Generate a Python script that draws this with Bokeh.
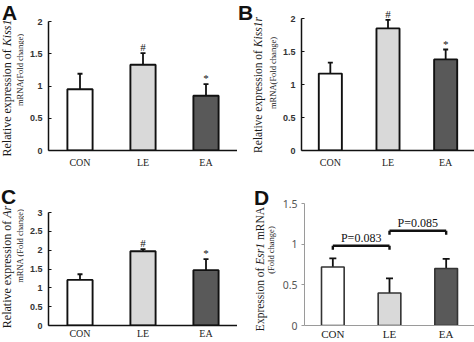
from bokeh.plotting import figure
from bokeh.models import (FactorRange, Range1d, FixedTicker, Whisker, TeeHead, Div,
                          LabelSet, ColumnDataSource, CustomJSTickFormatter)
from bokeh.layouts import row, column
from bokeh.embed import file_html
from bokeh.resources import INLINE

# ---------------- data ----------------
groups = ["CON", "LE", "EA"]

a_mean = [0.95, 1.33, 0.85]
a_err = [0.24, 0.18, 0.18]
a_sig = ["", "#", "*"]

b_mean = [1.165, 1.85, 1.38]
b_err = [0.165, 0.13, 0.15]
b_sig = ["", "#", "*"]

c_mean = [1.21, 1.97, 1.47]
c_err = [0.15, 0.06, 0.29]
c_sig = ["", "#", "*"]

d_mean = [0.72, 0.40, 0.70]
d_err = [0.105, 0.18, 0.12]
d_sig = ["", "", ""]

d_pairs = [("CON", "LE"), ("LE", "EA")]
d_pvals = ["P=0.083", "P=0.085"]
d_bracket_y = [0.98, 1.165]

fills = ["#ffffff", "#d9d9d9", "#595959"]

SERIF = "Liberation Serif"
SANS = "Liberation Sans"
H = 171


def panel(width, mean, err, sig, ymax, step, left, top, bottom, tick_top, style):
    # y range extends so that the top tick sits at pixel row `tick_top`
    ytop = ymax * (H - top - bottom) / (H - bottom - tick_top)
    p = figure(width=width, height=H,
               x_range=FactorRange(*groups, range_padding=0),
               y_range=Range1d(0, ytop),
               output_backend="svg", toolbar_location=None,
               min_border_left=left, min_border_right=0,
               min_border_top=top, min_border_bottom=bottom)
    p.outline_line_color = None
    p.xgrid.grid_line_color = None
    p.ygrid.grid_line_color = None
    p.background_fill_color = "white"
    p.border_fill_color = "white"

    upper = [m + e for m, e in zip(mean, err)]
    src = ColumnDataSource(dict(x=groups, top=mean, upper=upper, fill=fills, sig=sig))

    if style == "d":
        bar_line, bar_lw = "#333333", 1.6
    else:
        bar_line, bar_lw = "#111111", 1.9

    p.vbar(x="x", top="top", width=0.4, fill_color="fill", line_color=bar_line,
           line_width=bar_lw, source=src)

    w = Whisker(base="x", upper="upper", lower="top", source=src, dimension="height",
                line_color="#111111", line_width=1.8,
                upper_head=TeeHead(size=7 if style == "d" else 5,
                                   line_color="#111111", line_width=1.8),
                lower_head=None)
    p.add_layout(w)

    p.add_layout(LabelSet(x="x", y="upper", text="sig", source=src,
                          text_align="center", text_baseline="bottom",
                          text_font=SERIF, text_font_size="11px",
                          text_color="#111111", y_offset=0))

    n = int(round(ymax / step))
    p.yaxis.ticker = FixedTicker(ticks=[i * step for i in range(n + 1)])
    p.yaxis.formatter = CustomJSTickFormatter(code="return tick.toString();")
    p.yaxis.minor_tick_line_color = None
    p.yaxis.bounds = (0, ymax)

    p.xaxis.major_tick_line_color = None
    p.xaxis.minor_tick_line_color = None
    p.xaxis.major_tick_in = 0
    p.xaxis.major_tick_out = 0
    p.xaxis.major_label_text_font = SERIF
    p.xaxis.major_label_text_color = "#222222"

    if style == "d":
        p.yaxis.axis_line_color = "#9a9a9a"
        p.yaxis.axis_line_width = 1
        p.yaxis.major_tick_line_color = "#9a9a9a"
        p.yaxis.major_tick_in = 0
        p.yaxis.major_tick_out = 3
        p.yaxis.major_label_standoff = 4
        p.yaxis.major_label_text_font = "Noto Sans"
        p.yaxis.major_label_text_font_size = "10.5px"
        p.yaxis.major_label_text_color = "#555555"
        p.xaxis.axis_line_color = "#9a9a9a"
        p.xaxis.axis_line_width = 1
        p.xaxis.major_label_text_font_size = "11px"
        p.xaxis.major_label_standoff = 2
    else:
        p.yaxis.axis_line_color = "#111111"
        p.yaxis.axis_line_width = 1.5
        p.yaxis.major_tick_line_color = "#111111"
        p.yaxis.major_tick_line_width = 1.2
        p.yaxis.major_tick_in = 3
        p.yaxis.major_tick_out = 0
        p.yaxis.major_label_standoff = 6
        p.yaxis.major_label_text_font = SANS
        p.yaxis.major_label_text_font_style = "bold"
        p.yaxis.major_label_text_font_size = "9px"
        p.yaxis.major_label_text_color = "#333333"
        p.xaxis.axis_line_color = "#111111"
        p.xaxis.axis_line_width = 1.5
        p.xaxis.major_label_text_font_size = "10px"
        p.xaxis.major_label_standoff = 6 if style != "c" else 2
    return p


def title_strip(width, lines, letter, letter_pos):
    """HTML strip left of a panel: rotated y-axis title (with italic gene name)
    and the bold panel letter. (cx, cy) is the centre of each rotated line."""
    parts = []
    for html, cx, cy, size in lines:
        parts.append(
            f'<span style="position:absolute;left:{cx}px;top:{cy}px;'
            f'transform:translate(-50%,-50%) rotate(-90deg);white-space:nowrap;'
            f"font-family:'{SERIF}';font-size:{size};line-height:1.15;color:#1a1a1a;\">"
            f'{html}</span>')
    lx, ly = letter_pos
    parts.append(
        f'<span style="position:absolute;left:{lx}px;top:{ly}px;'
        f"font-family:'{SANS}';font-weight:bold;font-size:21px;line-height:1.1;"
        f'color:#111111;">{letter}</span>')
    html = (f'<div style="position:relative;width:{width}px;height:{H}px;'
            f'overflow:hidden;background:white;margin:0;padding:0;">'
            + "".join(parts) + "</div>")
    return Div(text=html, width=width, height=H, margin=0)


# Row 1 (A, B) share top/bottom borders; Row 2 (C, D) likewise
da = title_strip(24, [
    ("Relative expression of <i>Kiss1</i>", 8, 88, "12px"),
    ("mRNA(Fold change)", 21, 70, "8.5px"),
], "A", (2, 1))
pa = panel(213, a_mean, a_err, a_sig, 2, 0.5, 24, 8, 21, 21, "a")

db = title_strip(42, [
    ("Relative expression of <i>Kiss1r</i>", 22, 85, "11.5px"),
    ("mRNA(Fold change)", 37, 73, "8.5px"),
], "B", (1, 1))
pb = panel(195, b_mean, b_err, b_sig, 2, 0.5, 22, 8, 21, 18, "b")

dc = title_strip(24, [
    ("Relative expression of <i>Ar</i>", 8, 96, "12px"),
    ("mRNA (Fold change)", 21, 75, "8.5px"),
], "C", (1, 14))
pc = panel(213, c_mean, c_err, c_sig, 3, 0.5, 24, 28, 17, 41, "c")

dd = title_strip(42, [
    ("Expression of <i>Esr1</i> mRNA", 24, 98, "11.5px"),
    ("(Fold change)", 35, 79, "8.5px"),
], "D", (17, 15))
pd_ = panel(195, d_mean, d_err, d_sig, 1.5, 0.5, 22, 28, 17, 32, "d")

# significance brackets on D
leg = 0.05
bx0, bx1, by, ly, tx = [], [], [], [], []
for (g0, g1), yb in zip(d_pairs, d_bracket_y):
    i0, i1 = groups.index(g0) + 0.5, groups.index(g1) + 0.5
    bx0.append(i0); bx1.append(i1); by.append(yb); ly.append(yb - leg)
    tx.append((i0 + i1) / 2)
pd_.segment(x0=bx0, y0=by, x1=bx1, y1=by, line_color="#111111", line_width=2.4)
pd_.segment(x0=bx0, y0=by, x1=bx0, y1=ly, line_color="#111111", line_width=2.4)
pd_.segment(x0=bx1, y0=by, x1=bx1, y1=ly, line_color="#111111", line_width=2.4)
psrc = ColumnDataSource(dict(x=tx, y=by, t=d_pvals))
pd_.add_layout(LabelSet(x="x", y="y", text="t", source=psrc, text_align="center",
                        text_baseline="bottom", text_font=SERIF, text_font_size="12px",
                        text_color="#111111", y_offset=1))

layout = column(row(da, pa, db, pb), row(dc, pc, dd, pd_))
open("out.html", "w").write(file_html(layout, INLINE))
